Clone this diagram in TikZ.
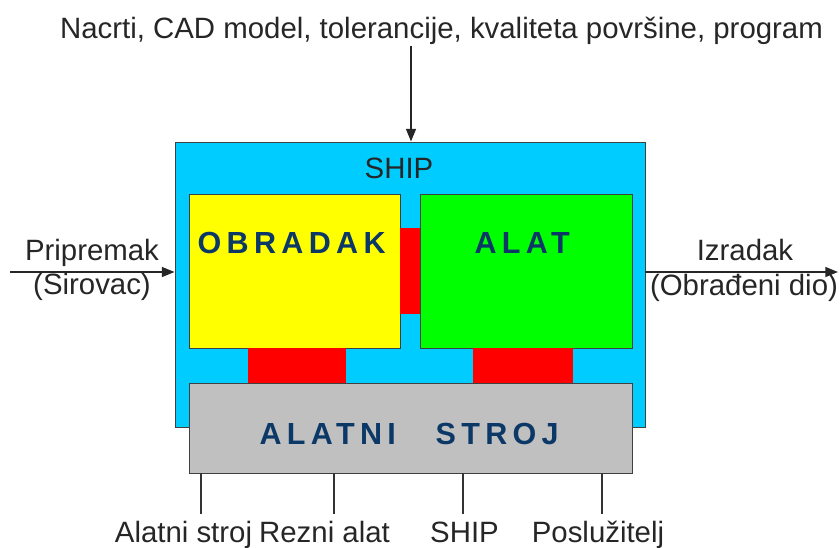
\documentclass[tikz,border=0pt]{standalone}
\usepackage{fontspec}
\setmainfont{Liberation Sans}
\newfontfamily\razmakfont[LetterSpace=17.5]{Liberation Sans}
\usetikzlibrary{arrows.meta, positioning}

\definecolor{shipplava}{HTML}{00CCFF}
\definecolor{obradakzuta}{HTML}{FFFF00}
\definecolor{alatzelena}{HTML}{00FF00}
\definecolor{spojcrvena}{HTML}{FF0000}
\definecolor{strojsiva}{HTML}{C0C0C0}
\definecolor{okvir}{HTML}{404040}
\definecolor{tamnoplava}{HTML}{0B3866}

\begin{document}
\begin{tikzpicture} [x=0.025cm, y=-0.025cm,
  blok/.style = {draw=okvir, line width=0.6pt, inner sep=0pt},
  natpis/.style = {font=\fontsize{20.9}{24}\selectfont, text=black!85, inner sep=1pt},
  oznaka/.style = {font=\razmakfont\bfseries\fontsize{21.7}{26}\selectfont, text=tamnoplava, inner sep=0pt},
  strelica/.style = {-{Triangle[length=9pt, width=7pt]}, line width=1.3pt, black!85},
  crta/.style = {line width=1.3pt, black!80}]

\useasboundingbox (0,0) rectangle (840,547);

% kutije
\node (ship) [blok, fill=shipplava, minimum width=11.75cm, minimum height=7.125cm] at (410,284.5) {};
\node (obradak) [blok, fill=obradakzuta, minimum width=5.275cm, minimum height=3.85cm] at (294.5,271) {};
\node (alat) [blok, fill=alatzelena, minimum width=5.3cm, minimum height=3.85cm] at (526,271) {};
\node (spoj) [blok, fill=spojcrvena, draw=none, minimum width=0.5cm, minimum height=2.15cm] at (410,271) {};
\node (podlogaL) [blok, fill=spojcrvena, draw=none, minimum width=2.45cm, minimum height=0.875cm] at (297,365.5) {};
\node (podlogaD) [blok, fill=spojcrvena, draw=none, minimum width=2.5cm, minimum height=0.875cm] at (523,365.5) {};
\node (stroj) [blok, fill=strojsiva, minimum width=11.075cm, minimum height=2.25cm] at (410.5,428) {};

% natpisi u kutijama
\node (shipnatpis) [natpis, anchor=base] at (399,178) {SHIP};
\node (obradaknatpis) [oznaka] at (289,243) {OBRADAK\kern-0.175em};
\node (alatnatpis) [oznaka] at (519.5,243) {ALAT\kern-0.175em};
\node (strojnatpis) [oznaka] at (406.5,434) {ALATNI\hspace{1.3em}STROJ\kern-0.175em};

% ulazi i izlazi
\node (nacrti) [natpis, anchor=base] at (441.5,38) {Nacrti, CAD model, tolerancije, kvaliteta površine, program};
\coordinate (ulaz) at (10,272);
\coordinate (izlaz) at (838,272);
\node (pripremak) [natpis, anchor=base] at (92,260) {Pripremak};
\node (sirovac) [natpis, anchor=base] at (92,294) {(Sirovac)};
\node (izradak) [natpis, anchor=base] at (745,260) {Izradak};
\node (obradjeni) [natpis, anchor=base] at (744,295) {(Obrađeni dio)};

\draw [strelica] (nacrti.south -| 411,0) -- (ship.north -| 411,0);
\draw [strelica] (ulaz) -- (ulaz -| ship.west);
\draw [strelica] (izlaz -| ship.east) -- (izlaz);

% resursi
\node (resurs1) [natpis, anchor=base] at (183.5,542) {Alatni stroj};
\node (resurs2) [natpis, anchor=base] at (324.5,542) {Rezni alat};
\node (resurs3) [natpis, anchor=base] at (464.5,542) {SHIP};
\node (resurs4) [natpis, anchor=base] at (598,542) {Poslužitelj};

\coordinate (kraj1) at (201,514);
\coordinate (kraj2) at (334,514);
\coordinate (kraj3) at (463,514);
\coordinate (kraj4) at (602,514);

\foreach \i in {1,...,4}
  \draw [crta] (kraj\i |- stroj.south) -- (kraj\i);
\end{tikzpicture}
\end{document}
